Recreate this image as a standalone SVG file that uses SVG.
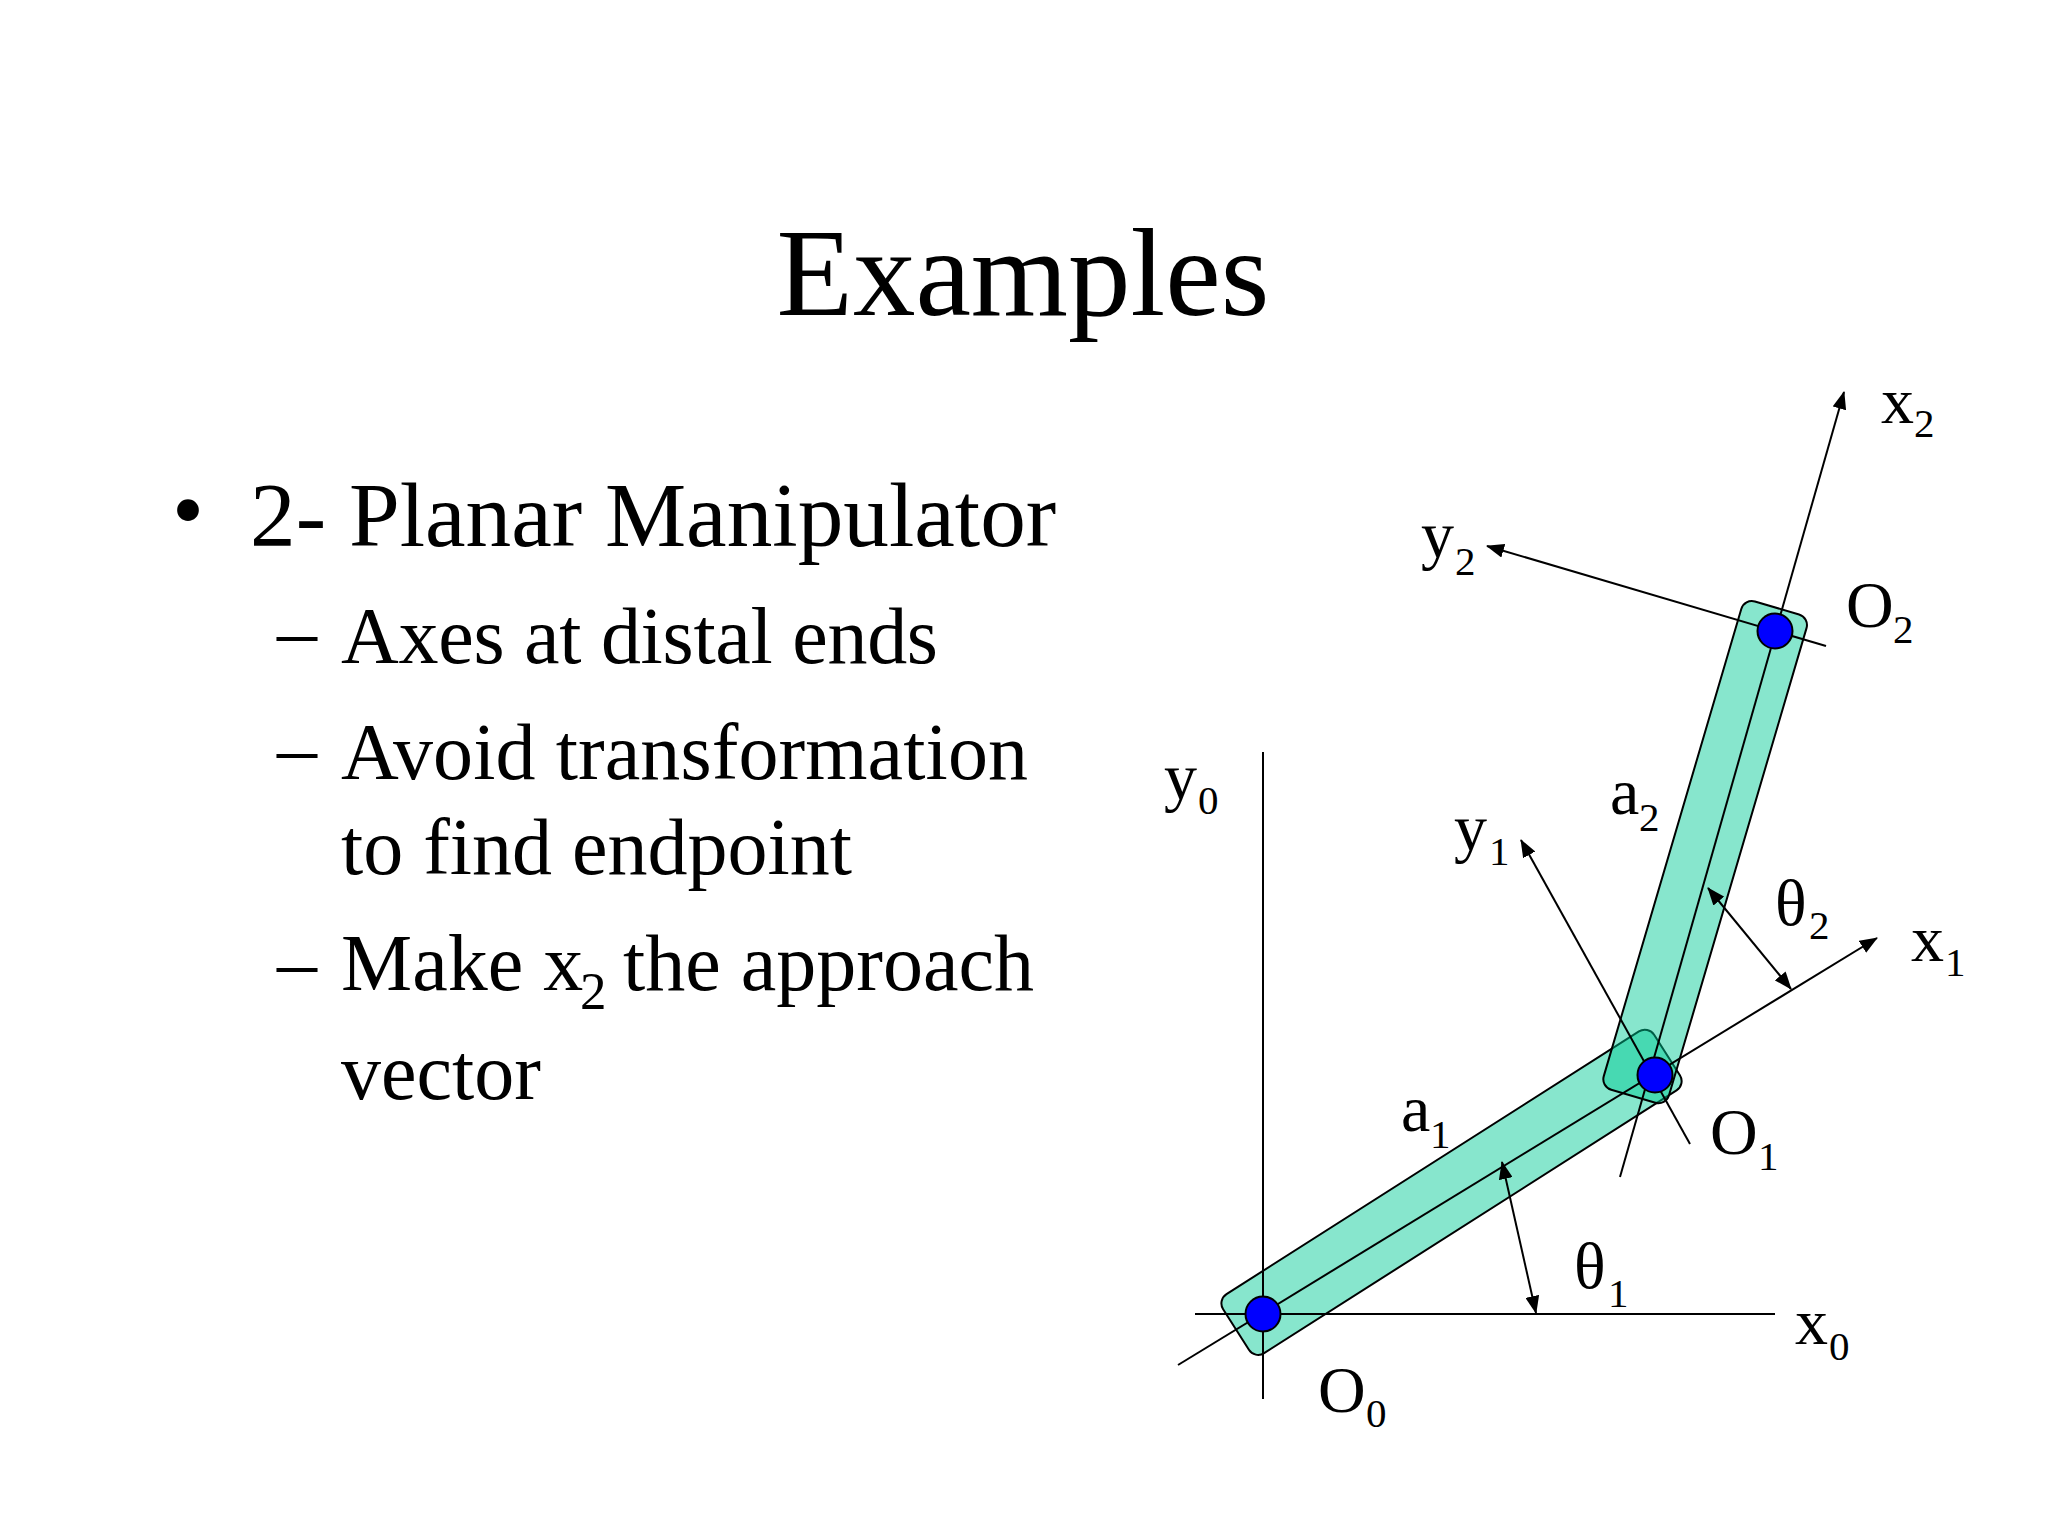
<svg xmlns="http://www.w3.org/2000/svg" width="2048" height="1536" viewBox="0 0 2048 1536">
<style>
text{font-family:"Liberation Serif","Times New Roman",serif;fill:#000}
.title{font-size:125px;text-anchor:middle}
.b1{font-size:91.3px}
.b2{font-size:80px}
.sub{font-size:53px}
.lab{font-size:66px}
.ls{font-size:41px}
.link{fill:rgb(0,202,149);fill-opacity:.47;stroke:#000;stroke-width:2}
.joint{fill:#0000ff;stroke:#000;stroke-width:2}
.ax{fill:none;stroke:#000;stroke-width:2}
.arr{marker-end:url(#ah)}
.dbl{marker-start:url(#ahs);marker-end:url(#ah)}
</style>
<defs>
<marker id="ah" markerUnits="userSpaceOnUse" markerWidth="18" markerHeight="14" refX="17" refY="7" orient="auto"><path d="M0 0L18 7L0 14z" fill="#000"/></marker>
<marker id="ahs" markerUnits="userSpaceOnUse" markerWidth="18" markerHeight="14" refX="1" refY="7" orient="auto"><path d="M18 0L0 7L18 14z" fill="#000"/></marker>
</defs>
<rect width="2048" height="1536" fill="#fff"/>
<text class="title" x="1023" y="315">Examples</text>
<g id="bullets">
<text class="b1" x="172" y="540">•</text>
<text class="b1" x="250" y="546">2- Planar Manipulator</text>
<text class="b2" x="277" y="658">–</text>
<text class="b2" x="341" y="663" textLength="597" lengthAdjust="spacing">Axes at distal ends</text>
<text class="b2" x="277" y="775">–</text>
<text class="b2" x="341" y="779" textLength="687" lengthAdjust="spacing">Avoid transformation</text>
<text class="b2" x="341" y="874">to find endpoint</text>
<text class="b2" x="277" y="989">–</text>
<text class="b2" x="341" y="990">Make x<tspan class="sub" x="580" y="1009">2</tspan><tspan x="623" y="990">the approach</tspan></text>
<text class="b2" x="341" y="1099">vector</text>
</g>
<g id="link-1"><rect class="link" x="-511" y="-35" width="511" height="70" rx="11" transform="translate(1667 1055) rotate(-32.5)"/></g>
<g id="link-2"><rect class="link" x="-509" y="-34" width="509" height="68" rx="11" transform="translate(1777 608) rotate(-73.6)"/></g>
<g id="connectors">
<line class="ax" x1="1263" y1="752" x2="1263" y2="1399"/>
<line class="ax" x1="1195" y1="1314" x2="1775" y2="1314"/>
<line class="ax arr" x1="1178" y1="1365" x2="1877" y2="938"/>
<line class="ax arr" x1="1690" y1="1144" x2="1521" y2="840"/>
<line class="ax arr" x1="1620" y1="1177" x2="1844" y2="392"/>
<line class="ax arr" x1="1826" y1="646" x2="1487" y2="546"/>
<line class="ax dbl" x1="1502" y1="1162" x2="1536" y2="1313"/>
<line class="ax dbl" x1="1708" y1="888" x2="1791" y2="989"/>
</g>
<g id="joint-0"><circle class="joint" cx="1263" cy="1314" r="17.5"/></g>
<g id="joint-1"><circle class="joint" cx="1655" cy="1075" r="17.5"/></g>
<g id="joint-2"><circle class="joint" cx="1775" cy="631" r="17.5"/></g>
<g id="labels">
<text class="lab" x="1881" y="423">x<tspan class="ls" x="1914" y="437">2</tspan></text>
<text class="lab" x="1421" y="557">y<tspan class="ls" x="1455" y="575">2</tspan></text>
<text class="lab" x="1846" y="627">O<tspan class="ls" x="1893" y="643">2</tspan></text>
<text class="lab" x="1164" y="799">y<tspan class="ls" x="1198" y="814">0</tspan></text>
<text class="lab" x="1454" y="850">y<tspan class="ls" x="1489" y="865">1</tspan></text>
<text class="lab" x="1610" y="814">a<tspan class="ls" x="1639" y="831">2</tspan></text>
<text class="lab" x="1775" y="925">θ<tspan class="ls" x="1809" y="939">2</tspan></text>
<text class="lab" x="1911" y="961">x<tspan class="ls" x="1945" y="976">1</tspan></text>
<text class="lab" x="1401" y="1131">a<tspan class="ls" x="1430" y="1148">1</tspan></text>
<text class="lab" x="1710" y="1154">O<tspan class="ls" x="1758" y="1170">1</tspan></text>
<text class="lab" x="1574" y="1288">θ<tspan class="ls" x="1608" y="1307">1</tspan></text>
<text class="lab" x="1795" y="1344">x<tspan class="ls" x="1829" y="1360">0</tspan></text>
<text class="lab" x="1318" y="1412">O<tspan class="ls" x="1366" y="1427">0</tspan></text>
</g>
</svg>
